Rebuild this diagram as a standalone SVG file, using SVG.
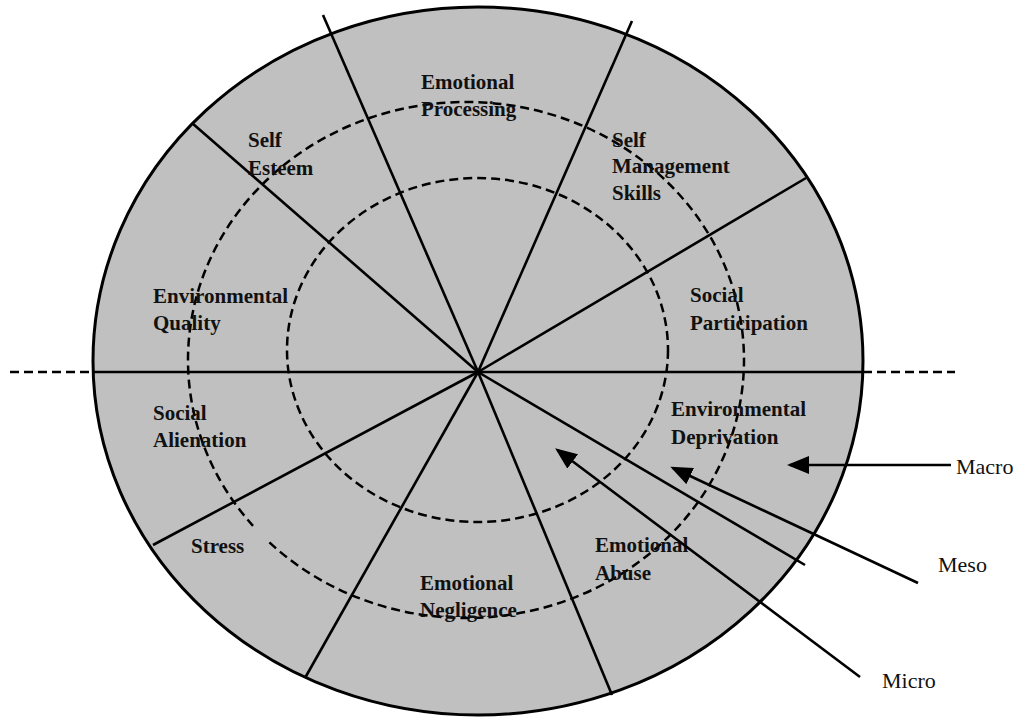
<svg xmlns="http://www.w3.org/2000/svg" width="1018" height="717" viewBox="0 0 1018 717">
<style>
.lbl{font-family:"Liberation Serif","Times New Roman",serif;font-weight:bold;font-size:21px;fill:#111}
.lvl{font-family:"Liberation Serif","Times New Roman",serif;font-size:22px;fill:#111}
.spoke{stroke:#000;stroke-width:2.6;fill:none}
.dash{stroke:#000;stroke-width:2.5;fill:none;stroke-dasharray:9 5}
.arr{stroke:#000;stroke-width:2.6;fill:none;marker-end:url(#ah)}
</style>
<defs>
<marker id="ah" viewBox="0 0 22 18" refX="19" refY="9" markerWidth="22" markerHeight="18" markerUnits="userSpaceOnUse" orient="auto">
<path d="M0,0 L22,9 L0,18 Z" fill="#000"/>
</marker>
</defs>
<rect width="1018" height="717" fill="#fff"/>
<g id="wheel">
<ellipse cx="478" cy="361" rx="385" ry="354" fill="#c0c0c0"/>
<ellipse class="dash" cx="477.5" cy="350" rx="190.5" ry="172"/>
<path class="dash" d="M 269.4 542.4 A 278 258 0 0 0 744 360 A 278 258 0 1 0 253 525.8"/>
<line class="dash" x1="10" y1="372" x2="93" y2="372"/>
<line class="dash" x1="863" y1="372" x2="955" y2="372"/>
<line class="spoke" x1="93" y1="372" x2="863" y2="372"/>
<line class="spoke" x1="323" y1="15" x2="478" y2="372"/>
<line class="spoke" x1="632" y1="21" x2="478" y2="372"/>
<line class="spoke" x1="192" y1="123" x2="478" y2="372"/>
<line class="spoke" x1="806" y1="178" x2="478" y2="372"/>
<line class="spoke" x1="478" y1="372" x2="153" y2="545"/>
<line class="spoke" x1="478" y1="372" x2="305" y2="678"/>
<line class="spoke" x1="478" y1="372" x2="612" y2="695"/>
<line class="spoke" x1="478" y1="372" x2="805" y2="565"/>
<ellipse cx="478" cy="361" rx="385" ry="354" fill="none" stroke="#000" stroke-width="3"/>
</g>
<g id="emotional-processing"><text class="lbl" x="421" y="89">Emotional</text><text class="lbl" x="421" y="116">Processing</text></g>
<g id="self-esteem"><text class="lbl" x="248" y="147">Self</text><text class="lbl" x="248" y="175">Esteem</text></g>
<g id="self-management-skills"><text class="lbl" x="612" y="147">Self</text><text class="lbl" x="612" y="173">Management</text><text class="lbl" x="612" y="200">Skills</text></g>
<g id="environmental-quality"><text class="lbl" x="153" y="303">Environmental</text><text class="lbl" x="153" y="330">Quality</text></g>
<g id="social-participation"><text class="lbl" x="690" y="302">Social</text><text class="lbl" x="690" y="330">Participation</text></g>
<g id="social-alienation"><text class="lbl" x="153" y="420">Social</text><text class="lbl" x="153" y="447">Alienation</text></g>
<g id="environmental-deprivation"><text class="lbl" x="671" y="416">Environmental</text><text class="lbl" x="671" y="444">Deprivation</text></g>
<g id="stress"><text class="lbl" x="191" y="553">Stress</text></g>
<g id="emotional-abuse"><text class="lbl" x="595" y="552">Emotional</text><text class="lbl" x="595" y="580">Abuse</text></g>
<g id="emotional-negligence"><text class="lbl" x="420" y="590">Emotional</text><text class="lbl" x="420" y="617">Negligence</text></g>
<g id="connectors">
<line class="arr" x1="951" y1="465" x2="790" y2="465"/>
<line class="arr" x1="918" y1="583" x2="673" y2="468"/>
<line class="arr" x1="860" y1="677" x2="557.5" y2="450"/>
</g>
<g id="macro"><text class="lvl" x="956" y="474">Macro</text></g>
<g id="meso"><text class="lvl" x="938" y="572">Meso</text></g>
<g id="micro"><text class="lvl" x="882" y="688">Micro</text></g>
</svg>
